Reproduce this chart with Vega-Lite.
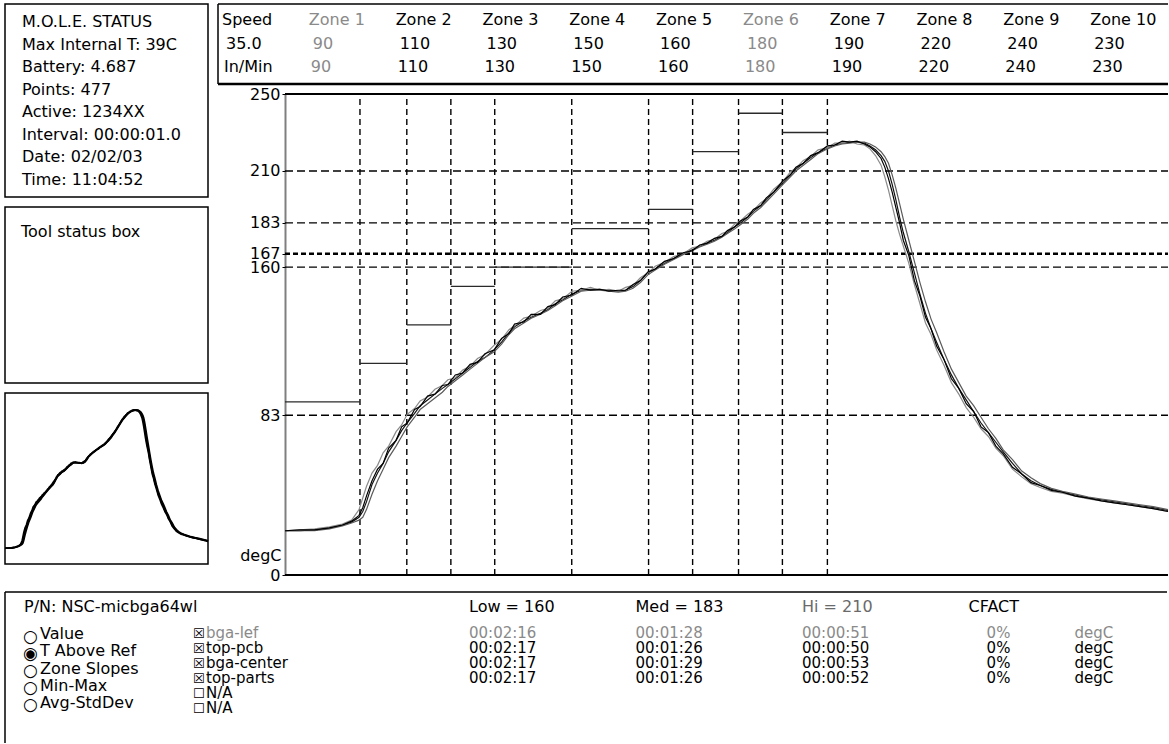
{
  "$schema": "https://vega.github.io/schema/vega-lite/v6.json",
  "background": "white",
  "padding": {"left": 1, "top": 3, "right": 0, "bottom": 0},
  "spacing": 8,
  "config": {
    "font": "DejaVu Sans",
    "view": {"stroke": "black", "strokeWidth": 1.5},
    "text": {"font": "DejaVu Sans", "fontSize": 16, "color": "black"},
    "axis": {"labelFont": "DejaVu Sans", "titleFont": "DejaVu Sans"}
  },
  "datasets": {
    "status": [
      {"line": 1, "text": "M.O.L.E. STATUS"},
      {"line": 2, "text": "Max Internal T: 39C"},
      {"line": 3, "text": "Battery: 4.687"},
      {"line": 4, "text": "Points: 477"},
      {"line": 5, "text": "Active: 1234XX"},
      {"line": 6, "text": "Interval: 00:00:01.0"},
      {"line": 7, "text": "Date: 02/02/03"},
      {"line": 8, "text": "Time: 11:04:52"}
    ],
    "speedTable": [
      {"col": "Speed", "top": "35.0", "bottom": "In/Min"},
      {"col": "Zone 1", "top": "90", "bottom": "90"},
      {"col": "Zone 2", "top": "110", "bottom": "110"},
      {"col": "Zone 3", "top": "130", "bottom": "130"},
      {"col": "Zone 4", "top": "150", "bottom": "150"},
      {"col": "Zone 5", "top": "160", "bottom": "160"},
      {"col": "Zone 6", "top": "180", "bottom": "180"},
      {"col": "Zone 7", "top": "190", "bottom": "190"},
      {"col": "Zone 8", "top": "220", "bottom": "220"},
      {"col": "Zone 9", "top": "240", "bottom": "240"},
      {"col": "Zone 10", "top": "230", "bottom": "230"}
    ],
    "zones": [
      {"zone": "Zone 1", "start": 0, "end": 40.5, "setpoint": 90},
      {"zone": "Zone 2", "start": 40.5, "end": 65.8, "setpoint": 110},
      {"zone": "Zone 3", "start": 65.8, "end": 89.6, "setpoint": 130},
      {"zone": "Zone 4", "start": 89.6, "end": 113.3, "setpoint": 150},
      {"zone": "Zone 5", "start": 113.3, "end": 154.9, "setpoint": 160},
      {"zone": "Zone 6", "start": 154.9, "end": 196.4, "setpoint": 180},
      {"zone": "Zone 7", "start": 196.4, "end": 220.2, "setpoint": 190},
      {"zone": "Zone 8", "start": 220.2, "end": 245, "setpoint": 220},
      {"zone": "Zone 9", "start": 245, "end": 268.7, "setpoint": 240},
      {"zone": "Zone 10", "start": 268.7, "end": 293, "setpoint": 230}
    ],
    "levels": [
      {"level": 0}, {"level": 83}, {"level": 160}, {"level": 167}, {"level": 183}, {"level": 210}, {"level": 250}
    ],
    "options": [
      {"idx": 1, "label": "Value", "selected": false},
      {"idx": 2, "label": "T Above Ref", "selected": true},
      {"idx": 3, "label": "Zone Slopes", "selected": false},
      {"idx": 4, "label": "Min-Max", "selected": false},
      {"idx": 5, "label": "Avg-StdDev", "selected": false}
    ],
    "probes": [
      {"idx": 1, "probe": "bga-lef", "checked": true, "low": "00:02:16", "med": "00:01:28", "hi": "00:00:51", "cfact": "0%", "unit": "degC"},
      {"idx": 2, "probe": "top-pcb", "checked": true, "low": "00:02:17", "med": "00:01:26", "hi": "00:00:50", "cfact": "0%", "unit": "degC"},
      {"idx": 3, "probe": "bga-center", "checked": true, "low": "00:02:17", "med": "00:01:29", "hi": "00:00:53", "cfact": "0%", "unit": "degC"},
      {"idx": 4, "probe": "top-parts", "checked": true, "low": "00:02:17", "med": "00:01:26", "hi": "00:00:52", "cfact": "0%", "unit": "degC"},
      {"idx": 5, "probe": "N/A", "checked": false},
      {"idx": 6, "probe": "N/A", "checked": false}
    ],
    "headers": [
      {"key": "low", "text": "Low = 160"},
      {"key": "med", "text": "Med = 183"},
      {"key": "hi", "text": "Hi = 210"},
      {"key": "cfact", "text": "CFACT"}
    ],
    "profile": [
      {"probe":"top-pcb","t":0,"v":23},{"probe":"top-pcb","t":8,"v":23},{"probe":"top-pcb","t":16,"v":23.5},{"probe":"top-pcb","t":24,"v":24.5},{"probe":"top-pcb","t":31,"v":26},{"probe":"top-pcb","t":36,"v":27.5},{"probe":"top-pcb","t":40,"v":30},{"probe":"top-pcb","t":42,"v":33},{"probe":"top-pcb","t":44,"v":38},{"probe":"top-pcb","t":47,"v":47},{"probe":"top-pcb","t":50,"v":53},{"probe":"top-pcb","t":53,"v":58},{"probe":"top-pcb","t":56,"v":64},{"probe":"top-pcb","t":60,"v":70},{"probe":"top-pcb","t":63,"v":75},{"probe":"top-pcb","t":66,"v":79},{"probe":"top-pcb","t":70,"v":84},{"probe":"top-pcb","t":73,"v":88},{"probe":"top-pcb","t":77,"v":91},{"probe":"top-pcb","t":81,"v":94},{"probe":"top-pcb","t":85,"v":97},{"probe":"top-pcb","t":88,"v":99},{"probe":"top-pcb","t":92,"v":102},{"probe":"top-pcb","t":96,"v":105},{"probe":"top-pcb","t":100,"v":108},{"probe":"top-pcb","t":104,"v":111},{"probe":"top-pcb","t":108,"v":113},{"probe":"top-pcb","t":113,"v":117},{"probe":"top-pcb","t":117,"v":121},{"probe":"top-pcb","t":121,"v":126},{"probe":"top-pcb","t":124,"v":129},{"probe":"top-pcb","t":129,"v":132},{"probe":"top-pcb","t":133,"v":134},{"probe":"top-pcb","t":138,"v":136},{"probe":"top-pcb","t":142,"v":138},{"probe":"top-pcb","t":146,"v":141},{"probe":"top-pcb","t":150,"v":143},{"probe":"top-pcb","t":155,"v":146},{"probe":"top-pcb","t":160,"v":148},{"probe":"top-pcb","t":165,"v":148.5},{"probe":"top-pcb","t":170,"v":148.5},{"probe":"top-pcb","t":175,"v":148},{"probe":"top-pcb","t":180,"v":147.5},{"probe":"top-pcb","t":184,"v":148},{"probe":"top-pcb","t":188,"v":150},{"probe":"top-pcb","t":192,"v":153},{"probe":"top-pcb","t":196,"v":157},{"probe":"top-pcb","t":200,"v":159},{"probe":"top-pcb","t":205,"v":162},{"probe":"top-pcb","t":210,"v":164.5},{"probe":"top-pcb","t":215,"v":167},{"probe":"top-pcb","t":220,"v":169},{"probe":"top-pcb","t":224,"v":171},{"probe":"top-pcb","t":228,"v":172.5},{"probe":"top-pcb","t":232,"v":174},{"probe":"top-pcb","t":236,"v":176},{"probe":"top-pcb","t":239,"v":178},{"probe":"top-pcb","t":243,"v":181},{"probe":"top-pcb","t":246,"v":183},{"probe":"top-pcb","t":250,"v":186},{"probe":"top-pcb","t":253,"v":189},{"probe":"top-pcb","t":257,"v":192},{"probe":"top-pcb","t":260,"v":195},{"probe":"top-pcb","t":264,"v":199},{"probe":"top-pcb","t":269,"v":204},{"probe":"top-pcb","t":273,"v":208},{"probe":"top-pcb","t":276,"v":211},{"probe":"top-pcb","t":280,"v":214},{"probe":"top-pcb","t":284,"v":217},{"probe":"top-pcb","t":288,"v":219.5},{"probe":"top-pcb","t":293,"v":222},{"probe":"top-pcb","t":297,"v":223.5},{"probe":"top-pcb","t":301,"v":224.5},{"probe":"top-pcb","t":305,"v":225},{"probe":"top-pcb","t":309,"v":225},{"probe":"top-pcb","t":313,"v":224.5},{"probe":"top-pcb","t":316,"v":223},{"probe":"top-pcb","t":319,"v":221},{"probe":"top-pcb","t":322,"v":218},{"probe":"top-pcb","t":324,"v":215},{"probe":"top-pcb","t":326,"v":210},{"probe":"top-pcb","t":328,"v":203},{"probe":"top-pcb","t":330,"v":195},{"probe":"top-pcb","t":332,"v":186},{"probe":"top-pcb","t":334,"v":178},{"probe":"top-pcb","t":337,"v":168},{"probe":"top-pcb","t":340,"v":157},{"probe":"top-pcb","t":343,"v":146},{"probe":"top-pcb","t":346,"v":136},{"probe":"top-pcb","t":349,"v":128},{"probe":"top-pcb","t":352,"v":121},{"probe":"top-pcb","t":356,"v":112},{"probe":"top-pcb","t":360,"v":104},{"probe":"top-pcb","t":364,"v":97},{"probe":"top-pcb","t":368,"v":91},{"probe":"top-pcb","t":372,"v":85},{"probe":"top-pcb","t":376,"v":79},{"probe":"top-pcb","t":380,"v":74},{"probe":"top-pcb","t":384,"v":69},{"probe":"top-pcb","t":388,"v":64},{"probe":"top-pcb","t":393,"v":58},{"probe":"top-pcb","t":398,"v":52.5},{"probe":"top-pcb","t":403,"v":49},{"probe":"top-pcb","t":408,"v":46.5},{"probe":"top-pcb","t":414,"v":44.5},{"probe":"top-pcb","t":420,"v":43},{"probe":"top-pcb","t":427,"v":41.5},{"probe":"top-pcb","t":434,"v":40},{"probe":"top-pcb","t":441,"v":39},{"probe":"top-pcb","t":448,"v":38},{"probe":"top-pcb","t":455,"v":37},{"probe":"top-pcb","t":462,"v":36},{"probe":"top-pcb","t":469,"v":35},{"probe":"top-pcb","t":477,"v":33.5},
      {"probe":"bga-lef","t":0,"v":23},{"probe":"bga-lef","t":8,"v":23.5},{"probe":"bga-lef","t":16,"v":24},{"probe":"bga-lef","t":24,"v":25},{"probe":"bga-lef","t":31,"v":26.5},{"probe":"bga-lef","t":36,"v":28.5},{"probe":"bga-lef","t":40,"v":34},{"probe":"bga-lef","t":42,"v":40},{"probe":"bga-lef","t":44,"v":46},{"probe":"bga-lef","t":47,"v":53},{"probe":"bga-lef","t":50,"v":57},{"probe":"bga-lef","t":53,"v":63.5},{"probe":"bga-lef","t":56,"v":67},{"probe":"bga-lef","t":60,"v":74.5},{"probe":"bga-lef","t":63,"v":78},{"probe":"bga-lef","t":66,"v":83.5},{"probe":"bga-lef","t":70,"v":86.5},{"probe":"bga-lef","t":73,"v":90.5},{"probe":"bga-lef","t":77,"v":92.5},{"probe":"bga-lef","t":81,"v":96.5},{"probe":"bga-lef","t":85,"v":98.5},{"probe":"bga-lef","t":88,"v":101.5},{"probe":"bga-lef","t":92,"v":102.5},{"probe":"bga-lef","t":96,"v":106.5},{"probe":"bga-lef","t":100,"v":108.5},{"probe":"bga-lef","t":104,"v":112.5},{"probe":"bga-lef","t":108,"v":114.5},{"probe":"bga-lef","t":113,"v":119.5},{"probe":"bga-lef","t":117,"v":122.5},{"probe":"bga-lef","t":121,"v":127.5},{"probe":"bga-lef","t":124,"v":129.5},{"probe":"bga-lef","t":129,"v":133.5},{"probe":"bga-lef","t":133,"v":134.5},{"probe":"bga-lef","t":138,"v":137.5},{"probe":"bga-lef","t":142,"v":138.5},{"probe":"bga-lef","t":146,"v":142.5},{"probe":"bga-lef","t":150,"v":143.5},{"probe":"bga-lef","t":155,"v":147.5},{"probe":"bga-lef","t":160,"v":148},{"probe":"bga-lef","t":165,"v":149.5},{"probe":"bga-lef","t":170,"v":148},{"probe":"bga-lef","t":175,"v":148.5},{"probe":"bga-lef","t":180,"v":147.5},{"probe":"bga-lef","t":184,"v":149.5},{"probe":"bga-lef","t":188,"v":150.5},{"probe":"bga-lef","t":192,"v":154.5},{"probe":"bga-lef","t":196,"v":157},{"probe":"bga-lef","t":200,"v":160.5},{"probe":"bga-lef","t":205,"v":162.5},{"probe":"bga-lef","t":210,"v":165.5},{"probe":"bga-lef","t":215,"v":167},{"probe":"bga-lef","t":220,"v":170},{"probe":"bga-lef","t":224,"v":171},{"probe":"bga-lef","t":228,"v":173.5},{"probe":"bga-lef","t":232,"v":174.5},{"probe":"bga-lef","t":236,"v":177.5},{"probe":"bga-lef","t":239,"v":178.5},{"probe":"bga-lef","t":243,"v":182.5},{"probe":"bga-lef","t":246,"v":184},{"probe":"bga-lef","t":250,"v":187.5},{"probe":"bga-lef","t":253,"v":189.5},{"probe":"bga-lef","t":257,"v":193.5},{"probe":"bga-lef","t":260,"v":195.5},{"probe":"bga-lef","t":264,"v":200.5},{"probe":"bga-lef","t":269,"v":204.5},{"probe":"bga-lef","t":273,"v":209.5},{"probe":"bga-lef","t":276,"v":211.5},{"probe":"bga-lef","t":280,"v":215.5},{"probe":"bga-lef","t":284,"v":217.5},{"probe":"bga-lef","t":288,"v":221},{"probe":"bga-lef","t":293,"v":222},{"probe":"bga-lef","t":297,"v":224.5},{"probe":"bga-lef","t":301,"v":224.5},{"probe":"bga-lef","t":305,"v":225.5},{"probe":"bga-lef","t":309,"v":224},{"probe":"bga-lef","t":313,"v":223.5},{"probe":"bga-lef","t":316,"v":221.5},{"probe":"bga-lef","t":319,"v":218},{"probe":"bga-lef","t":322,"v":213},{"probe":"bga-lef","t":324,"v":207},{"probe":"bga-lef","t":326,"v":200},{"probe":"bga-lef","t":328,"v":192},{"probe":"bga-lef","t":330,"v":184},{"probe":"bga-lef","t":332,"v":177},{"probe":"bga-lef","t":334,"v":171},{"probe":"bga-lef","t":337,"v":162},{"probe":"bga-lef","t":340,"v":151},{"probe":"bga-lef","t":343,"v":141},{"probe":"bga-lef","t":346,"v":131},{"probe":"bga-lef","t":349,"v":125},{"probe":"bga-lef","t":352,"v":117},{"probe":"bga-lef","t":356,"v":109},{"probe":"bga-lef","t":360,"v":100},{"probe":"bga-lef","t":364,"v":94},{"probe":"bga-lef","t":368,"v":87},{"probe":"bga-lef","t":372,"v":82},{"probe":"bga-lef","t":376,"v":76},{"probe":"bga-lef","t":380,"v":72},{"probe":"bga-lef","t":384,"v":66},{"probe":"bga-lef","t":388,"v":62},{"probe":"bga-lef","t":393,"v":55},{"probe":"bga-lef","t":398,"v":51},{"probe":"bga-lef","t":403,"v":47.5},{"probe":"bga-lef","t":408,"v":45.5},{"probe":"bga-lef","t":414,"v":43.5},{"probe":"bga-lef","t":420,"v":42.5},{"probe":"bga-lef","t":427,"v":41},{"probe":"bga-lef","t":434,"v":39.5},{"probe":"bga-lef","t":441,"v":38.5},{"probe":"bga-lef","t":448,"v":37.5},{"probe":"bga-lef","t":455,"v":36.5},{"probe":"bga-lef","t":462,"v":35.5},{"probe":"bga-lef","t":469,"v":34.5},{"probe":"bga-lef","t":477,"v":33},
      {"probe":"bga-center","t":0,"v":23},{"probe":"bga-center","t":8,"v":23},{"probe":"bga-center","t":16,"v":23},{"probe":"bga-center","t":24,"v":24},{"probe":"bga-center","t":31,"v":25.5},{"probe":"bga-center","t":36,"v":27},{"probe":"bga-center","t":40,"v":28.5},{"probe":"bga-center","t":42,"v":30},{"probe":"bga-center","t":44,"v":34},{"probe":"bga-center","t":47,"v":42},{"probe":"bga-center","t":50,"v":49},{"probe":"bga-center","t":53,"v":55},{"probe":"bga-center","t":56,"v":61},{"probe":"bga-center","t":60,"v":67},{"probe":"bga-center","t":63,"v":72},{"probe":"bga-center","t":66,"v":77},{"probe":"bga-center","t":70,"v":82},{"probe":"bga-center","t":73,"v":86},{"probe":"bga-center","t":77,"v":89},{"probe":"bga-center","t":81,"v":92},{"probe":"bga-center","t":85,"v":95},{"probe":"bga-center","t":88,"v":98},{"probe":"bga-center","t":92,"v":101},{"probe":"bga-center","t":96,"v":104},{"probe":"bga-center","t":100,"v":107},{"probe":"bga-center","t":104,"v":110},{"probe":"bga-center","t":108,"v":113},{"probe":"bga-center","t":113,"v":116},{"probe":"bga-center","t":117,"v":120},{"probe":"bga-center","t":121,"v":125},{"probe":"bga-center","t":124,"v":128},{"probe":"bga-center","t":129,"v":131},{"probe":"bga-center","t":133,"v":133.5},{"probe":"bga-center","t":138,"v":135.5},{"probe":"bga-center","t":142,"v":137.5},{"probe":"bga-center","t":146,"v":140},{"probe":"bga-center","t":150,"v":142.5},{"probe":"bga-center","t":155,"v":145},{"probe":"bga-center","t":160,"v":147.5},{"probe":"bga-center","t":165,"v":148},{"probe":"bga-center","t":170,"v":148},{"probe":"bga-center","t":175,"v":147.5},{"probe":"bga-center","t":180,"v":147},{"probe":"bga-center","t":184,"v":147.5},{"probe":"bga-center","t":188,"v":149},{"probe":"bga-center","t":192,"v":152},{"probe":"bga-center","t":196,"v":156},{"probe":"bga-center","t":200,"v":158.5},{"probe":"bga-center","t":205,"v":161.5},{"probe":"bga-center","t":210,"v":164},{"probe":"bga-center","t":215,"v":166.5},{"probe":"bga-center","t":220,"v":168.5},{"probe":"bga-center","t":224,"v":170.5},{"probe":"bga-center","t":228,"v":172},{"probe":"bga-center","t":232,"v":173.5},{"probe":"bga-center","t":236,"v":175.5},{"probe":"bga-center","t":239,"v":177.5},{"probe":"bga-center","t":243,"v":180},{"probe":"bga-center","t":246,"v":182},{"probe":"bga-center","t":250,"v":185},{"probe":"bga-center","t":253,"v":188},{"probe":"bga-center","t":257,"v":191},{"probe":"bga-center","t":260,"v":194},{"probe":"bga-center","t":264,"v":198},{"probe":"bga-center","t":269,"v":203},{"probe":"bga-center","t":273,"v":207},{"probe":"bga-center","t":276,"v":210},{"probe":"bga-center","t":280,"v":213},{"probe":"bga-center","t":284,"v":216},{"probe":"bga-center","t":288,"v":219},{"probe":"bga-center","t":293,"v":221.5},{"probe":"bga-center","t":297,"v":223},{"probe":"bga-center","t":301,"v":224},{"probe":"bga-center","t":305,"v":224.5},{"probe":"bga-center","t":309,"v":225},{"probe":"bga-center","t":313,"v":225},{"probe":"bga-center","t":316,"v":224},{"probe":"bga-center","t":319,"v":222.5},{"probe":"bga-center","t":322,"v":220},{"probe":"bga-center","t":324,"v":217.5},{"probe":"bga-center","t":326,"v":214},{"probe":"bga-center","t":328,"v":208},{"probe":"bga-center","t":330,"v":201},{"probe":"bga-center","t":332,"v":193},{"probe":"bga-center","t":334,"v":185},{"probe":"bga-center","t":337,"v":174},{"probe":"bga-center","t":340,"v":163},{"probe":"bga-center","t":343,"v":152},{"probe":"bga-center","t":346,"v":142},{"probe":"bga-center","t":349,"v":133},{"probe":"bga-center","t":352,"v":126},{"probe":"bga-center","t":356,"v":116},{"probe":"bga-center","t":360,"v":107},{"probe":"bga-center","t":364,"v":100},{"probe":"bga-center","t":368,"v":93},{"probe":"bga-center","t":372,"v":88},{"probe":"bga-center","t":376,"v":82},{"probe":"bga-center","t":380,"v":76},{"probe":"bga-center","t":384,"v":71},{"probe":"bga-center","t":388,"v":65},{"probe":"bga-center","t":393,"v":60},{"probe":"bga-center","t":398,"v":54},{"probe":"bga-center","t":403,"v":50.5},{"probe":"bga-center","t":408,"v":47.5},{"probe":"bga-center","t":414,"v":45},{"probe":"bga-center","t":420,"v":43.5},{"probe":"bga-center","t":427,"v":42},{"probe":"bga-center","t":434,"v":40.5},{"probe":"bga-center","t":441,"v":39.5},{"probe":"bga-center","t":448,"v":38.5},{"probe":"bga-center","t":455,"v":37.5},{"probe":"bga-center","t":462,"v":36.5},{"probe":"bga-center","t":469,"v":35.5},{"probe":"bga-center","t":477,"v":34},
      {"probe":"top-parts","t":0,"v":23},{"probe":"top-parts","t":8,"v":23.5},{"probe":"top-parts","t":16,"v":23.5},{"probe":"top-parts","t":24,"v":24.5},{"probe":"top-parts","t":31,"v":26},{"probe":"top-parts","t":36,"v":28},{"probe":"top-parts","t":40,"v":31},{"probe":"top-parts","t":42,"v":35},{"probe":"top-parts","t":44,"v":41},{"probe":"top-parts","t":47,"v":49},{"probe":"top-parts","t":50,"v":55},{"probe":"top-parts","t":53,"v":58},{"probe":"top-parts","t":56,"v":66},{"probe":"top-parts","t":60,"v":70},{"probe":"top-parts","t":63,"v":77},{"probe":"top-parts","t":66,"v":79},{"probe":"top-parts","t":70,"v":86},{"probe":"top-parts","t":73,"v":87.5},{"probe":"top-parts","t":77,"v":93},{"probe":"top-parts","t":81,"v":94},{"probe":"top-parts","t":85,"v":98.5},{"probe":"top-parts","t":88,"v":99},{"probe":"top-parts","t":92,"v":104},{"probe":"top-parts","t":96,"v":105},{"probe":"top-parts","t":100,"v":109.5},{"probe":"top-parts","t":104,"v":110.5},{"probe":"top-parts","t":108,"v":115},{"probe":"top-parts","t":113,"v":117},{"probe":"top-parts","t":117,"v":123},{"probe":"top-parts","t":121,"v":125.5},{"probe":"top-parts","t":124,"v":130.5},{"probe":"top-parts","t":129,"v":131.5},{"probe":"top-parts","t":133,"v":135.5},{"probe":"top-parts","t":138,"v":135.5},{"probe":"top-parts","t":142,"v":139.5},{"probe":"top-parts","t":146,"v":140.5},{"probe":"top-parts","t":150,"v":144.5},{"probe":"top-parts","t":155,"v":145.5},{"probe":"top-parts","t":160,"v":149},{"probe":"top-parts","t":165,"v":148},{"probe":"top-parts","t":170,"v":148.5},{"probe":"top-parts","t":175,"v":147.5},{"probe":"top-parts","t":180,"v":148},{"probe":"top-parts","t":184,"v":148},{"probe":"top-parts","t":188,"v":151},{"probe":"top-parts","t":192,"v":153},{"probe":"top-parts","t":196,"v":157.5},{"probe":"top-parts","t":200,"v":159},{"probe":"top-parts","t":205,"v":163},{"probe":"top-parts","t":210,"v":164.5},{"probe":"top-parts","t":215,"v":167.5},{"probe":"top-parts","t":220,"v":168.5},{"probe":"top-parts","t":224,"v":171.5},{"probe":"top-parts","t":228,"v":172.5},{"probe":"top-parts","t":232,"v":175},{"probe":"top-parts","t":236,"v":176},{"probe":"top-parts","t":239,"v":179},{"probe":"top-parts","t":243,"v":181},{"probe":"top-parts","t":246,"v":184},{"probe":"top-parts","t":250,"v":186},{"probe":"top-parts","t":253,"v":190},{"probe":"top-parts","t":257,"v":192},{"probe":"top-parts","t":260,"v":196},{"probe":"top-parts","t":264,"v":199},{"probe":"top-parts","t":269,"v":205},{"probe":"top-parts","t":273,"v":208},{"probe":"top-parts","t":276,"v":212},{"probe":"top-parts","t":280,"v":214},{"probe":"top-parts","t":284,"v":218},{"probe":"top-parts","t":288,"v":219.5},{"probe":"top-parts","t":293,"v":223},{"probe":"top-parts","t":297,"v":223.5},{"probe":"top-parts","t":301,"v":225.5},{"probe":"top-parts","t":305,"v":225},{"probe":"top-parts","t":309,"v":225.5},{"probe":"top-parts","t":313,"v":224},{"probe":"top-parts","t":316,"v":222.5},{"probe":"top-parts","t":319,"v":220},{"probe":"top-parts","t":322,"v":216.5},{"probe":"top-parts","t":324,"v":212},{"probe":"top-parts","t":326,"v":206},{"probe":"top-parts","t":328,"v":199},{"probe":"top-parts","t":330,"v":191},{"probe":"top-parts","t":332,"v":183},{"probe":"top-parts","t":334,"v":174},{"probe":"top-parts","t":337,"v":166},{"probe":"top-parts","t":340,"v":153},{"probe":"top-parts","t":343,"v":145},{"probe":"top-parts","t":346,"v":134},{"probe":"top-parts","t":349,"v":128},{"probe":"top-parts","t":352,"v":119},{"probe":"top-parts","t":356,"v":112},{"probe":"top-parts","t":360,"v":102},{"probe":"top-parts","t":364,"v":97},{"probe":"top-parts","t":368,"v":89},{"probe":"top-parts","t":372,"v":85},{"probe":"top-parts","t":376,"v":77},{"probe":"top-parts","t":380,"v":74},{"probe":"top-parts","t":384,"v":67},{"probe":"top-parts","t":388,"v":63},{"probe":"top-parts","t":393,"v":56},{"probe":"top-parts","t":398,"v":52.5},{"probe":"top-parts","t":403,"v":48},{"probe":"top-parts","t":408,"v":46.5},{"probe":"top-parts","t":414,"v":44},{"probe":"top-parts","t":420,"v":43},{"probe":"top-parts","t":427,"v":41},{"probe":"top-parts","t":434,"v":40},{"probe":"top-parts","t":441,"v":38.5},{"probe":"top-parts","t":448,"v":37.5},{"probe":"top-parts","t":455,"v":36.5},{"probe":"top-parts","t":462,"v":35.5},{"probe":"top-parts","t":469,"v":34.5},{"probe":"top-parts","t":477,"v":33}
    ]
  },
  "vconcat": [
    {
      "spacing": 4,
      "hconcat": [
        {
          "bounds": "flush",
          "spacing": 10,
          "vconcat": [
            {
              "width": 203,
              "height": 193,
              "data": {"name": "status"},
              "mark": {"type": "text", "align": "left", "baseline": "middle", "dx": 17},
              "encoding": {
                "x": {"datum": 0, "type": "quantitative", "scale": {"domain": [0, 1]}, "axis": null},
                "y": {"field": "line", "type": "ordinal", "scale": {"type": "point", "range": [18, 176], "padding": 0}, "axis": null},
                "text": {"field": "text"}
              }
            },
            {
              "width": 203,
              "height": 176,
              "data": {"values": [{"text": "Tool status box"}]},
              "mark": {"type": "text", "align": "left", "baseline": "middle", "dx": 16, "dy": 25},
              "encoding": {
                "x": {"datum": 0, "type": "quantitative", "scale": {"domain": [0, 1]}, "axis": null},
                "y": {"datum": 1, "type": "quantitative", "scale": {"domain": [0, 1]}, "axis": null},
                "text": {"field": "text"}
              }
            },
            {
              "width": 203,
              "height": 171,
              "data": {"name": "profile"},
              "mark": {"type": "line", "color": "black", "strokeWidth": 1.5},
              "encoding": {
                "x": {"field": "t", "type": "quantitative", "scale": {"domain": [0, 477], "nice": false}, "axis": null},
                "y": {"field": "v", "type": "quantitative", "scale": {"domain": [0, 250], "nice": false}, "axis": null},
                "detail": {"field": "probe"}
              }
            }
          ]
        },
        {
          "width": 883,
          "height": 571,
          "view": {"stroke": null},
          "resolve": {"scale": {"x": "independent", "y": "independent", "color": "independent"}},
          "layer": [
            {
              "data": {"name": "levels"},
              "transform": [{"filter": "datum.level > 0 && datum.level < 250"}],
              "mark": {"type": "rule", "color": "black"},
              "encoding": {
                "x": {"datum": 0, "type": "quantitative", "scale": {"domain": [0, 477], "nice": false}, "axis": null},
                "x2": {"datum": 477},
                "y": {
                  "field": "level", "type": "quantitative",
                  "scale": {"domain": [0, 250], "range": [571, 90], "nice": false},
                  "axis": {
                    "values": [0, 83, 160, 167, 183, 210, 250],
                    "grid": false,
                    "domainColor": "black", "domainWidth": 2, "domainDash": [1, 1],
                    "ticks": true, "tickSize": 3, "tickColor": "black", "tickWidth": 1,
                    "labelFontSize": 16, "labelColor": "black", "labelPadding": 2,
                    "labelOverlap": false, "labelBound": false, "labelFlush": false,
                    "title": "degC", "titleAngle": 0, "titleAlign": "right", "titleBaseline": "middle",
                    "titleX": -4, "titleY": 551, "titleFontSize": 16, "titleFontWeight": "normal", "titleColor": "black"
                  }
                },
                "strokeDash": {"condition": {"test": "datum.level === 167", "value": [5, 3]}, "value": [8, 4]},
                "strokeWidth": {"condition": {"test": "datum.level === 167", "value": 2.6}, "value": 1.4}
              }
            },
            {
              "data": {"name": "levels"},
              "transform": [{"filter": "datum.level === 0 || datum.level === 250"}],
              "mark": {"type": "rule", "color": "black", "strokeWidth": 2},
              "encoding": {
                "x": {"datum": 0, "type": "quantitative", "scale": {"domain": [0, 477], "nice": false}, "axis": null},
                "x2": {"datum": 477},
                "y": {"field": "level", "type": "quantitative", "scale": {"domain": [0, 250], "range": [571, 90], "nice": false}, "axis": null}
              }
            },
            {
              "data": {"name": "zones"},
              "mark": {"type": "rule", "color": "black", "strokeDash": [6, 4], "strokeWidth": 1.4},
              "encoding": {
                "x": {"field": "end", "type": "quantitative", "scale": {"domain": [0, 477], "nice": false}, "axis": null},
                "y": {"datum": 0, "type": "quantitative", "scale": {"domain": [0, 250], "range": [571, 90], "nice": false}, "axis": null},
                "y2": {"datum": 250}
              }
            },
            {
              "data": {"name": "zones"},
              "mark": {"type": "rule", "color": "#2a2a2a", "strokeWidth": 1.3},
              "encoding": {
                "x": {"field": "start", "type": "quantitative", "scale": {"domain": [0, 477], "nice": false}, "axis": null},
                "x2": {"field": "end"},
                "y": {"field": "setpoint", "type": "quantitative", "scale": {"domain": [0, 250], "range": [571, 90], "nice": false}, "axis": null}
              }
            },
            {
              "data": {"name": "profile"},
              "mark": {"type": "line", "strokeWidth": 1.2},
              "encoding": {
                "x": {"field": "t", "type": "quantitative", "scale": {"domain": [0, 477], "nice": false}, "axis": null},
                "y": {"field": "v", "type": "quantitative", "scale": {"domain": [0, 250], "range": [571, 90], "nice": false}, "axis": null},
                "color": {"field": "probe", "type": "nominal", "scale": {"domain": ["bga-lef", "top-pcb", "bga-center", "top-parts"], "range": ["#8a8a8a", "#111111", "#5a5a5a", "#000000"]}, "legend": null}
              }
            },
            {
              "data": {"name": "speedTable"},
              "mark": {"type": "text", "align": "left", "baseline": "middle"},
              "encoding": {
                "x": {"field": "col", "type": "nominal", "bandPosition": 0, "scale": {"type": "band", "domain": ["Speed", "Zone 1", "Zone 2", "Zone 3", "Zone 4", "Zone 5", "Zone 6", "Zone 7", "Zone 8", "Zone 9", "Zone 10"], "range": [-63, 892], "paddingInner": 0, "paddingOuter": 0}, "axis": null},
                "y": {"datum": "head", "type": "nominal", "scale": {"type": "point", "domain": ["head", "top", "bottom"], "range": [16, 63], "padding": 0}, "axis": null},
                "text": {"field": "col"},
                "color": {"condition": {"test": "datum.col === 'Zone 1' || datum.col === 'Zone 6'", "value": "#8a8a8a"}, "value": "black"}
              }
            },
            {
              "data": {"name": "speedTable"},
              "mark": {"type": "text", "align": "left", "baseline": "middle", "dx": 4},
              "encoding": {
                "x": {"field": "col", "type": "nominal", "bandPosition": 0, "scale": {"type": "band", "domain": ["Speed", "Zone 1", "Zone 2", "Zone 3", "Zone 4", "Zone 5", "Zone 6", "Zone 7", "Zone 8", "Zone 9", "Zone 10"], "range": [-63, 892], "paddingInner": 0, "paddingOuter": 0}, "axis": null},
                "y": {"datum": "top", "type": "nominal", "scale": {"type": "point", "domain": ["head", "top", "bottom"], "range": [16, 63], "padding": 0}, "axis": null},
                "text": {"field": "top"},
                "color": {"condition": {"test": "datum.col === 'Zone 1' || datum.col === 'Zone 6'", "value": "#8a8a8a"}, "value": "black"}
              }
            },
            {
              "data": {"name": "speedTable"},
              "mark": {"type": "text", "align": "left", "baseline": "middle", "dx": 2},
              "encoding": {
                "x": {"field": "col", "type": "nominal", "bandPosition": 0, "scale": {"type": "band", "domain": ["Speed", "Zone 1", "Zone 2", "Zone 3", "Zone 4", "Zone 5", "Zone 6", "Zone 7", "Zone 8", "Zone 9", "Zone 10"], "range": [-63, 892], "paddingInner": 0, "paddingOuter": 0}, "axis": null},
                "y": {"datum": "bottom", "type": "nominal", "scale": {"type": "point", "domain": ["head", "top", "bottom"], "range": [16, 63], "padding": 0}, "axis": null},
                "text": {"field": "bottom"},
                "color": {"condition": {"test": "datum.col === 'Zone 1' || datum.col === 'Zone 6'", "value": "#8a8a8a"}, "value": "black"}
              }
            },
            {
              "data": {"values": [{"edge": "top"}]},
              "mark": {"type": "rule", "color": "black", "strokeWidth": 1.5},
              "encoding": {
                "x": {"datum": 0, "type": "quantitative", "scale": {"domain": [0, 1], "range": [-67, 883]}, "axis": null},
                "x2": {"datum": 1},
                "y": {"datum": 1, "type": "quantitative", "scale": {"domain": [0, 1], "range": [80, 0]}, "axis": null}
              }
            },
            {
              "data": {"values": [{"edge": "bottom"}]},
              "mark": {"type": "rule", "color": "black", "strokeWidth": 2.5},
              "encoding": {
                "x": {"datum": 0, "type": "quantitative", "scale": {"domain": [0, 1], "range": [-67, 883]}, "axis": null},
                "x2": {"datum": 1},
                "y": {"datum": 0, "type": "quantitative", "scale": {"domain": [0, 1], "range": [80, 0]}, "axis": null}
              }
            },
            {
              "data": {"values": [{"edge": "left"}]},
              "mark": {"type": "rule", "color": "black", "strokeWidth": 1.5},
              "encoding": {
                "x": {"datum": 0, "type": "quantitative", "scale": {"domain": [0, 1], "range": [-67, 883]}, "axis": null},
                "y": {"datum": 0, "type": "quantitative", "scale": {"domain": [0, 1], "range": [80, 0]}, "axis": null},
                "y2": {"datum": 1}
              }
            }
          ]
        }
      ]
    },
    {
      "width": 1162,
      "height": 151,
      "view": {"stroke": null},
      "resolve": {"scale": {"x": "independent", "y": "independent", "color": "independent"}},
      "layer": [
        {
          "data": {"values": [{"edge": "top"}]},
          "mark": {"type": "rule", "color": "black", "strokeWidth": 1.5},
          "encoding": {
            "x": {"datum": 0, "type": "quantitative", "scale": {"domain": [0, 1]}, "axis": null},
            "x2": {"datum": 1},
            "y": {"datum": 1, "type": "quantitative", "scale": {"domain": [0, 1]}, "axis": null}
          }
        },
        {
          "data": {"values": [{"edge": "left"}]},
          "mark": {"type": "rule", "color": "black", "strokeWidth": 1.5},
          "encoding": {
            "x": {"datum": 0, "type": "quantitative", "scale": {"domain": [0, 1]}, "axis": null},
            "y": {"datum": 0, "type": "quantitative", "scale": {"domain": [0, 1]}, "axis": null},
            "y2": {"datum": 1}
          }
        },
        {
          "data": {"values": [{"text": "P/N: NSC-micbga64wl"}]},
          "mark": {"type": "text", "align": "left", "baseline": "middle", "dy": -11},
          "encoding": {
            "x": {"datum": "options", "type": "nominal", "bandPosition": 0, "scale": {"type": "band", "domain": ["options", "probes"], "range": [19, 383], "paddingInner": 0, "paddingOuter": 0}, "axis": null},
            "y": {"datum": 0, "type": "ordinal", "scale": {"type": "point", "domain": [0, 1, 2, 3, 4, 5, 6], "range": [26, 116], "padding": 0}, "axis": null},
            "text": {"field": "text"}
          }
        },
        {
          "data": {"name": "options"},
          "mark": {"type": "text", "align": "left", "baseline": "middle", "fontSize": 17, "dx": -1},
          "encoding": {
            "x": {"datum": "options", "type": "nominal", "bandPosition": 0, "scale": {"type": "band", "domain": ["options", "probes"], "range": [19, 383], "paddingInner": 0, "paddingOuter": 0}, "axis": null},
            "y": {"field": "idx", "type": "ordinal", "scale": {"type": "point", "domain": [1, 2, 3, 4, 5], "range": [45, 113], "padding": 0}, "axis": null},
            "text": {"condition": {"test": "datum.selected", "value": "◉"}, "value": "○"}
          }
        },
        {
          "data": {"name": "options"},
          "mark": {"type": "text", "align": "left", "baseline": "middle", "dx": 16},
          "encoding": {
            "x": {"datum": "options", "type": "nominal", "bandPosition": 0, "scale": {"type": "band", "domain": ["options", "probes"], "range": [19, 383], "paddingInner": 0, "paddingOuter": 0}, "axis": null},
            "y": {"field": "idx", "type": "ordinal", "scale": {"type": "point", "domain": [1, 2, 3, 4, 5], "range": [42, 111], "padding": 0}, "axis": null},
            "text": {"field": "label"}
          }
        },
        {
          "data": {"name": "probes"},
          "mark": {"type": "text", "align": "left", "baseline": "middle", "fontSize": 13, "dx": -13, "dy": 1},
          "encoding": {
            "x": {"datum": "probes", "type": "nominal", "bandPosition": 0, "scale": {"type": "band", "domain": ["options", "probes"], "range": [19, 383], "paddingInner": 0, "paddingOuter": 0}, "axis": null},
            "y": {"field": "idx", "type": "ordinal", "scale": {"type": "point", "domain": [0, 1, 2, 3, 4, 5, 6], "range": [26, 116], "padding": 0}, "axis": null},
            "text": {"condition": {"test": "datum.checked", "value": "☒"}, "value": "☐"}
          }
        },
        {
          "data": {"name": "probes"},
          "mark": {"type": "text", "align": "left", "baseline": "middle", "fontSize": 15},
          "encoding": {
            "x": {"datum": "probes", "type": "nominal", "bandPosition": 0, "scale": {"type": "band", "domain": ["options", "probes"], "range": [19, 383], "paddingInner": 0, "paddingOuter": 0}, "axis": null},
            "y": {"field": "idx", "type": "ordinal", "scale": {"type": "point", "domain": [0, 1, 2, 3, 4, 5, 6], "range": [26, 116], "padding": 0}, "axis": null},
            "text": {"field": "probe"},
            "color": {"condition": {"test": "datum.probe === 'bga-lef'", "value": "#8a8a8a"}, "value": "black"}
          }
        },
        {
          "data": {"name": "headers"},
          "mark": {"type": "text", "align": "left", "baseline": "middle", "dy": -11},
          "encoding": {
            "x": {"field": "key", "type": "nominal", "bandPosition": 0, "scale": {"type": "band", "domain": ["low", "med", "hi", "cfact"], "range": [464, 1130], "paddingInner": 0, "paddingOuter": 0}, "axis": null},
            "y": {"datum": 0, "type": "ordinal", "scale": {"type": "point", "domain": [0, 1, 2, 3, 4, 5, 6], "range": [26, 116], "padding": 0}, "axis": null},
            "text": {"field": "text"},
            "color": {"condition": {"test": "datum.key === 'hi'", "value": "#6a6a6a"}, "value": "black"}
          }
        },
        {
          "data": {"name": "probes"},
          "transform": [
            {"filter": "isValid(datum.low)"},
            {"fold": ["low", "med", "hi"], "as": ["key", "value"]}
          ],
          "mark": {"type": "text", "align": "left", "baseline": "middle", "fontSize": 15},
          "encoding": {
            "x": {"field": "key", "type": "nominal", "bandPosition": 0, "scale": {"type": "band", "domain": ["low", "med", "hi", "cfact"], "range": [464, 1130], "paddingInner": 0, "paddingOuter": 0}, "axis": null},
            "y": {"field": "idx", "type": "ordinal", "scale": {"type": "point", "domain": [0, 1, 2, 3, 4, 5, 6], "range": [26, 116], "padding": 0}, "axis": null},
            "text": {"field": "value"},
            "color": {"condition": {"test": "datum.idx === 1", "value": "#8a8a8a"}, "value": "black"}
          }
        },
        {
          "data": {"name": "probes"},
          "transform": [{"filter": "isValid(datum.cfact)"}],
          "mark": {"type": "text", "align": "center", "baseline": "middle", "dx": 30, "fontSize": 15},
          "encoding": {
            "x": {"datum": "cfact", "type": "nominal", "bandPosition": 0, "scale": {"type": "band", "domain": ["low", "med", "hi", "cfact"], "range": [464, 1130], "paddingInner": 0, "paddingOuter": 0}, "axis": null},
            "y": {"field": "idx", "type": "ordinal", "scale": {"type": "point", "domain": [0, 1, 2, 3, 4, 5, 6], "range": [26, 116], "padding": 0}, "axis": null},
            "text": {"field": "cfact"},
            "color": {"condition": {"test": "datum.idx === 1", "value": "#8a8a8a"}, "value": "black"}
          }
        },
        {
          "data": {"name": "probes"},
          "transform": [{"filter": "isValid(datum.unit)"}],
          "mark": {"type": "text", "align": "left", "baseline": "middle", "dx": 106, "fontSize": 15},
          "encoding": {
            "x": {"datum": "cfact", "type": "nominal", "bandPosition": 0, "scale": {"type": "band", "domain": ["low", "med", "hi", "cfact"], "range": [464, 1130], "paddingInner": 0, "paddingOuter": 0}, "axis": null},
            "y": {"field": "idx", "type": "ordinal", "scale": {"type": "point", "domain": [0, 1, 2, 3, 4, 5, 6], "range": [26, 116], "padding": 0}, "axis": null},
            "text": {"field": "unit"},
            "color": {"condition": {"test": "datum.idx === 1", "value": "#8a8a8a"}, "value": "black"}
          }
        }
      ]
    }
  ]
}
